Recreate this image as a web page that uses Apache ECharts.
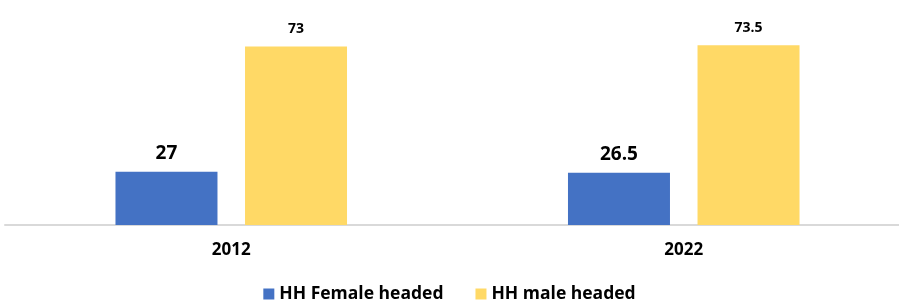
<!DOCTYPE html>
<html lang="en">
<head>
  <meta charset="UTF-8">
  <title>HH headship</title>
  <style>
  html, body { margin: 0; padding: 0; background: #fff; }
  #main { width: 899px; height: 304px; }
  </style>
  <script src="https://cdn.jsdelivr.net/npm/echarts@6/dist/echarts.min.js"></script>
</head>
<body>
  <div id="main"></div>
  <script>
  var years = ['2012', '2022'];
  var femaleHeaded = [27, 26.5];
  var maleHeaded = [73, 73.5];

  var font = '"Open Sans", Lato, sans-serif';

  var chart = echarts.init(document.getElementById('main'));
  chart.setOption({
    animation: false,
    textStyle: { fontFamily: font },
    grid: { left: 5, width: 905, top: 44, bottom: 79, outerBoundsMode: 'none', containLabel: false },
    legend: {
      bottom: -4,
      left: 'center',
      icon: 'rect',
      itemWidth: 11,
      itemHeight: 11,
      itemGap: 32,
      textStyle: { fontSize: 17.5, fontWeight: 'bold', color: '#000', fontFamily: font },
      data: ['HH Female headed', 'HH male headed']
    },
    xAxis: {
      type: 'category',
      data: years,
      axisLine: { lineStyle: { color: '#d9d9d9', width: 2 } },
      axisTick: { show: false },
      axisLabel: { margin: 17, fontSize: 17, fontWeight: 'bold', color: '#000', fontFamily: font }
    },
    yAxis: [
      { type: 'value', min: 0, max: 74, show: false },
      // the source chart draws the female bars on their own scale
      { type: 'value', min: 0, max: 91.6, show: false }
    ],
    series: [
      {
        name: 'HH Female headed',
        type: 'bar',
        yAxisIndex: 1,
        data: femaleHeaded,
        barWidth: 102,
        barGap: '27%',
        itemStyle: { color: '#4472C4' },
        label: {
          show: true,
          position: 'top',
          distance: 9,
          fontSize: 19,
          fontWeight: 'bold',
          color: '#000',
          fontFamily: font
        }
      },
      {
        name: 'HH male headed',
        type: 'bar',
        yAxisIndex: 0,
        data: maleHeaded,
        barWidth: 102,
        barGap: '27%',
        itemStyle: { color: '#FFD966' },
        label: {
          show: true,
          position: 'top',
          distance: 10,
          fontSize: 14,
          fontWeight: 'bold',
          color: '#000',
          fontFamily: font
        }
      }
    ]
  });
  </script>
</body>
</html>
